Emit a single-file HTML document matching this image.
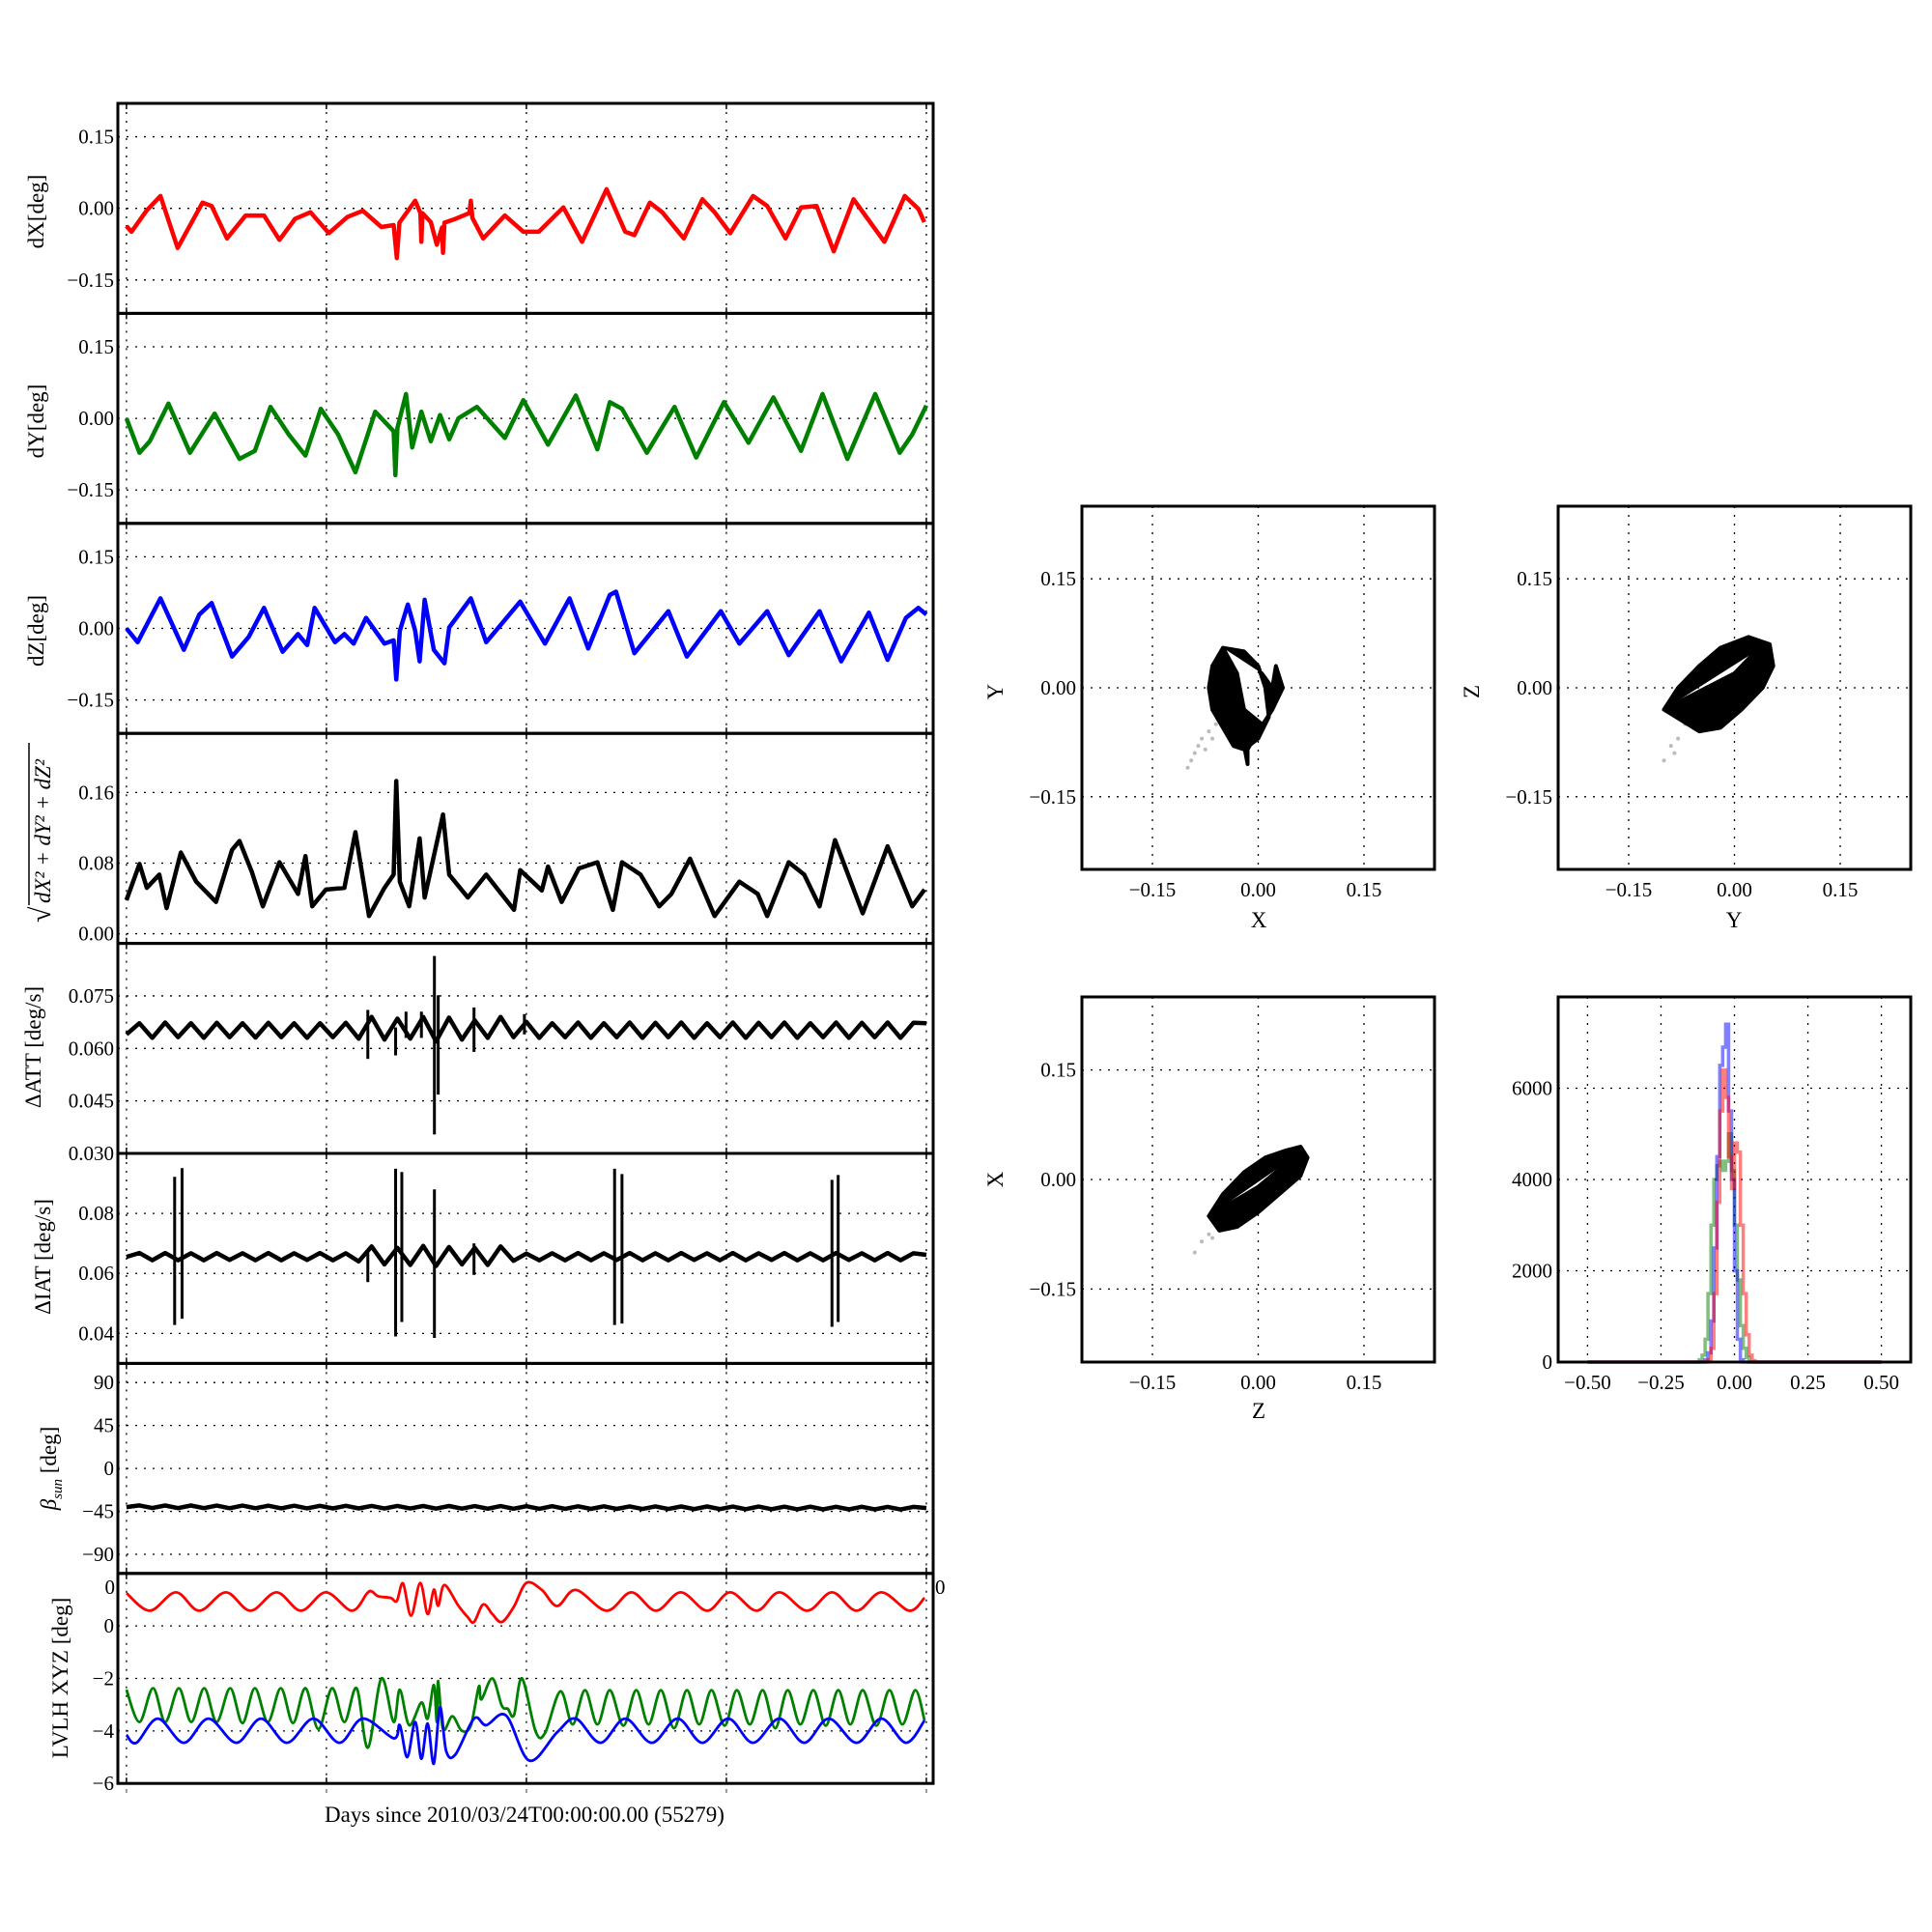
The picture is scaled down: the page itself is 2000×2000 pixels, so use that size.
<!DOCTYPE html>
<html><head><meta charset="utf-8"><title>Attitude diagnostics</title>
<style>
html,body{margin:0;padding:0;background:#fff;}
svg{display:block;font-family:"Liberation Serif","DejaVu Serif",serif;}
</style></head>
<body>
<svg id="fig" xmlns="http://www.w3.org/2000/svg" width="2000" height="2000" viewBox="0 0 2000 2000">
<rect x="0" y="0" width="2000" height="2000" fill="#fff"/>
<text x="543" y="1886" font-size="23" text-anchor="middle">Days since 2010/03/24T00:00:00.00 (55279)</text>
<text x="119" y="1650" font-size="21" text-anchor="end">0</text>
<text x="968" y="1650" font-size="21" text-anchor="start">0</text>
</svg>
<script>
// ---------- time-series data ----------
const dxT=[0,.025,.10,.17,.256,.38,.426,.503,.596,.688,.765,.843,.92,1.012,1.105,1.182,1.275,1.336,1.352,1.365,1.444,1.47,1.475,1.48,1.522,1.552,1.578,1.583,1.59,1.645,1.715,1.722,1.73,1.784,1.892,1.985,2.062,2.185,2.278,2.401,2.494,2.54,2.617,2.679,2.787,2.88,2.941,3.019,3.133,3.204,3.296,3.373,3.451,3.537,3.636,3.79,3.892,3.96,3.99];
const dxV=[-.037,-.049,-.005,.026,-.083,.012,.005,-.063,-.015,-.015,-.066,-.022,-.008,-.052,-.018,-.005,-.039,-.035,-.104,-.03,.016,-.01,-.07,-.01,-.029,-.076,-.04,-.093,-.03,-.022,-.01,.016,-.02,-.063,-.015,-.049,-.049,.002,-.07,.04,-.049,-.056,.012,-.008,-.063,.019,-.008,-.052,.026,.005,-.063,.002,.005,-.09,.019,-.07,.026,-.001,-.029];
const dyT=[0,.065,.117,.21,.318,.441,.565,.642,.72,.812,.895,.972,1.059,1.145,1.244,1.336,1.345,1.355,1.398,1.429,1.475,1.522,1.568,1.614,1.66,1.753,1.892,1.985,2.108,2.247,2.355,2.417,2.478,2.602,2.741,2.849,2.988,3.111,3.235,3.373,3.481,3.605,3.744,3.867,3.929,4.0];
const dyV=[0,-.072,-.048,.031,-.072,.01,-.085,-.068,.024,-.034,-.078,.02,-.034,-.113,.014,-.027,-.119,-.02,.051,-.061,.014,-.048,.007,-.044,0,.024,-.041,.038,-.055,.048,-.065,.034,.02,-.072,.024,-.082,.034,-.051,.044,-.068,.051,-.085,.051,-.072,-.034,.027];
const dzT=[0,.056,.17,.287,.364,.426,.528,.611,.688,.781,.858,.904,.941,1.043,1.09,1.136,1.198,1.29,1.336,1.349,1.367,1.407,1.444,1.466,1.491,1.537,1.59,1.614,1.722,1.799,1.969,2.093,2.216,2.309,2.417,2.448,2.54,2.71,2.802,2.972,3.065,3.204,3.312,3.466,3.574,3.713,3.806,3.898,3.96,4.0];
const dzV=[0,-.029,.063,-.045,.029,.053,-.059,-.018,.043,-.049,-.012,-.035,.043,-.029,-.012,-.032,.022,-.032,-.025,-.107,-.005,.05,-.005,-.069,.06,-.045,-.073,.002,.063,-.029,.056,-.032,.063,-.042,.07,.077,-.052,.036,-.059,.036,-.032,.036,-.056,.036,-.069,.033,-.066,.022,.043,.029];
const magT=[0,.065,.102,.164,.201,.272,.349,.448,.528,.565,.627,.682,.765,.858,.895,.929,.997,1.09,1.145,1.213,1.29,1.336,1.349,1.367,1.414,1.466,1.491,1.537,1.583,1.614,1.707,1.799,1.938,1.969,2.077,2.108,2.176,2.262,2.355,2.432,2.478,2.571,2.664,2.725,2.818,2.941,3.065,3.157,3.204,3.312,3.389,3.466,3.543,3.682,3.806,3.929,3.991];
const magV=[.038,.079,.052,.067,.029,.092,.059,.036,.095,.105,.07,.031,.081,.045,.088,.031,.05,.052,.115,.02,.052,.067,.173,.059,.031,.108,.041,.088,.135,.067,.041,.067,.027,.072,.049,.076,.036,.074,.081,.027,.081,.067,.031,.045,.085,.02,.059,.045,.02,.081,.067,.031,.106,.023,.099,.031,.05];
const attV=[.0640,.0672,.0630,.0674,.0632,.0672,.0630,.0673,.0632,.0672,.0631,.0673,.0632,.0672,.0630,.0672,.0632,.0673,.0628,.0690,.0625,.0685,.0628,.0690,.0620,.0688,.0625,.0680,.0630,.0690,.0632,.0676,.0630,.0672,.0632,.0674,.0630,.0672,.0632,.0674,.0630,.0673,.0632,.0674,.0630,.0672,.0632,.0674,.0630,.0673,.0632,.0674,.0630,.0672,.0632,.0674,.0630,.0673,.0632,.0674,.0630,.0673,.0672];
const attSpikeT=[1.207,1.346,1.398,1.475,1.54,1.559,1.738,1.99];
const attSpikeHi=[.071,.066,.0705,.0705,.0864,.0752,.0717,.0698];
const attSpikeLo=[.057,.058,.063,.063,.0354,.0468,.059,.064];
const iatV=[.0655,.0668,.0644,.0668,.0644,.0667,.0644,.0668,.0645,.0667,.0644,.0668,.0644,.0667,.0645,.0668,.0644,.0667,.0640,.0690,.0630,.0685,.0628,.0692,.0625,.0688,.0630,.0685,.0628,.0690,.0642,.0666,.0644,.0667,.0644,.0668,.0644,.0667,.0645,.0668,.0644,.0667,.0644,.0668,.0645,.0667,.0644,.0668,.0644,.0667,.0645,.0668,.0644,.0667,.0644,.0668,.0645,.0667,.0644,.0668,.0644,.0667,.0662];
const iatSpikeT=[.241,.278,1.207,1.346,1.377,1.54,1.738,2.441,2.478,3.528,3.559];
const iatSpikeHi=[.0922,.0951,.068,.0949,.0938,.088,.070,.0949,.0931,.0912,.0928];
const iatSpikeLo=[.0428,.0449,.0571,.039,.0438,.0385,.0595,.0428,.0433,.0422,.0438];
const betaV=[-40.5,-38.8,-41.5,-38.9,-41.6,-38.9,-41.6,-39.0,-41.7,-39.0,-41.7,-39.1,-41.8,-39.1,-41.8,-39.2,-41.9,-39.2,-41.9,-39.3,-42.0,-39.3,-42.0,-39.4,-42.1,-39.4,-42.1,-39.5,-42.2,-39.5,-42.2,-39.6,-42.3,-39.6,-42.3,-39.7,-42.4,-39.7,-42.4,-39.8,-42.5,-39.8,-42.5,-39.9,-42.6,-39.9,-42.6,-40.0,-42.7,-40.0,-42.7,-40.1,-42.8,-40.1,-42.8,-40.2,-42.9,-40.2,-42.9,-40.3,-43.0,-40.3,-41.5];
const lvxT=[0,.117,.247,.364,.497,.62,.75,.873,.997,1.127,1.204,1.228,1.259,1.321,1.352,1.383,1.423,1.469,1.506,1.537,1.559,1.59,1.66,1.707,1.738,1.784,1.83,1.877,1.938,2.0,2.077,2.154,2.247,2.401,2.525,2.648,2.772,2.904,3.019,3.151,3.265,3.404,3.528,3.651,3.775,3.914,3.991];
const lvxV=[1.25,.58,1.28,.58,1.28,.58,1.28,.58,1.28,.58,1.25,1.31,1.13,1.07,.95,1.62,.39,1.64,.45,1.38,.77,1.56,.77,.33,.15,.82,.45,.15,.74,1.64,1.37,.76,1.37,.58,1.28,.58,1.28,.58,1.28,.58,1.28,.58,1.28,.58,1.28,.58,1.07];
const lvyT=[0,.065,.133,.194,.262,.324,.389,.451,.519,.58,.642,.707,.772,.833,.895,.96,1.028,1.09,1.151,1.207,1.275,1.336,1.367,1.414,1.475,1.506,1.537,1.552,1.559,1.583,1.63,1.676,1.722,1.762,1.775,1.83,1.877,1.907,1.938,1.978,2.046,2.093,2.17,2.231,2.293,2.355,2.417,2.485,2.549,2.611,2.673,2.738,2.802,2.864,2.926,2.991,3.052,3.117,3.182,3.244,3.306,3.37,3.435,3.497,3.559,3.62,3.682,3.75,3.815,3.88,3.944,3.991];
const lvyV=[-2.43,-3.66,-2.37,-3.66,-2.37,-3.66,-2.37,-3.66,-2.37,-3.7,-2.37,-3.66,-2.37,-3.7,-2.37,-3.93,-2.37,-3.66,-2.37,-4.64,-2.0,-3.66,-2.43,-3.78,-2.92,-3.53,-2.25,-3.66,-2.1,-3.93,-3.44,-3.99,-3.8,-2.31,-2.8,-2.0,-3.04,-3.16,-3.4,-2.0,-4.02,-4.08,-2.49,-3.75,-2.45,-3.75,-2.45,-3.8,-2.45,-3.75,-2.45,-3.9,-2.45,-3.75,-2.45,-3.8,-2.45,-3.75,-2.45,-3.9,-2.45,-3.75,-2.45,-3.8,-2.45,-3.75,-2.45,-3.8,-2.45,-3.75,-2.45,-3.6];
const lvzT=[0,.05,.157,.287,.41,.549,.673,.802,.935,1.065,1.182,1.336,1.367,1.404,1.444,1.475,1.506,1.537,1.568,1.599,1.645,1.738,1.799,1.898,2.015,2.154,2.247,2.37,2.494,2.627,2.756,2.88,3.009,3.133,3.265,3.389,3.512,3.651,3.775,3.898,3.991];
const lvzV=[-4.15,-4.45,-3.53,-4.45,-3.53,-4.45,-3.53,-4.45,-3.53,-4.45,-3.53,-4.28,-3.78,-5.0,-3.66,-5.06,-3.72,-5.25,-3.1,-4.77,-4.9,-3.53,-3.78,-3.41,-5.13,-4.05,-3.53,-4.45,-3.53,-4.45,-3.53,-4.45,-3.53,-4.45,-3.53,-4.45,-3.53,-4.45,-3.53,-4.45,-3.6];
// ---------- scatter data ----------
const xyX=[-0.05,-0.02,0.0,0.01,0.015,0.0,-0.02,-0.035,-0.05,-0.065,-0.07,-0.065,-0.05,-0.03,-0.02,0.005,-0.015,-0.015,-0.02,0.0,0.02,0.035,0.025,0.02,0.005];
const xyY=[0.055,0.05,0.03,0.0,-0.04,-0.07,-0.085,-0.08,-0.055,-0.03,0.0,0.03,0.055,0.02,-0.03,-0.05,-0.085,-0.105,-0.08,-0.06,-0.03,0.0,0.03,0.0,0.02];
const xyTailX=[-0.06,-0.07,-0.08,-0.085,-0.09,-0.095,-0.1,-0.065,-0.075];
const xyTailY=[-0.05,-0.06,-0.07,-0.08,-0.09,-0.1,-0.11,-0.07,-0.085];
const yzY=[-0.1,-0.08,-0.05,-0.02,0.02,0.05,0.055,0.04,0.01,-0.02,-0.05,-0.075,-0.1,-0.04,0.0,0.03];
const yzZ=[-0.03,0.0,0.03,0.055,0.07,0.06,0.03,0.0,-0.03,-0.055,-0.06,-0.045,-0.03,0.0,0.02,0.05];
const yzTailY=[-0.07,-0.08,-0.09,-0.1,-0.085];
const yzTailZ=[-0.05,-0.07,-0.08,-0.1,-0.09];
const zxZ=[-0.07,-0.05,-0.02,0.01,0.04,0.06,0.07,0.06,0.03,0.0,-0.03,-0.055,-0.07,0.0,0.05];
const zxX=[-0.05,-0.02,0.01,0.03,0.04,0.045,0.03,0.005,-0.02,-0.045,-0.065,-0.07,-0.05,-0.01,0.03];
const zxTailZ=[-0.06,-0.07,-0.08,-0.09,-0.065];
const zxTailX=[-0.06,-0.075,-0.085,-0.1,-0.08];
// ---------- histogram data ----------
const binEdges=[-0.13,-0.12,-0.11,-0.10,-0.09,-0.08,-0.07,-0.06,-0.05,-0.04,-0.03,-0.02,-0.01,0.0,0.01,0.02,0.03,0.04,0.05,0.06,0.07,0.08];
const histBlue=[0,0,0,50,200,900,2500,4500,6500,6900,7400,5500,4000,2000,500,50,0,0,0,0,0];
const histRed=[0,0,0,0,50,300,1500,3500,5500,6400,5800,4500,3800,4800,4600,3000,1500,600,150,30,0];
const histGreen=[0,50,150,500,1500,3000,4000,4300,4400,4200,4400,5000,4200,3000,1800,800,300,100,0,0,0];

const NS='http://www.w3.org/2000/svg';
const svg=document.getElementById('fig');
function mk(tag,parent){const e=document.createElementNS(NS,tag);parent.appendChild(e);return e;}
function fmt(v,d){const s=Math.abs(v).toFixed(d);return (v<0?'\u2212':'')+s;}

const LEFT=122,RIGHT=966,PTOP=107,PH=217.4,XMIN=-0.043,XMAX=4.034;
const xs=t=>LEFT+(t-XMIN)/(XMAX-XMIN)*(RIGHT-LEFT);
const dayTicks=[0,1,2,3,4];

function tsPanel(i,ymin,ymax,ticks,dec,name){
  const top=PTOP+i*PH,bot=top+PH;
  const ys=v=>bot-(v-ymin)/(ymax-ymin)*PH;
  const g=mk('g',svg);
  
  
  dayTicks.forEach(t=>{const l=mk('line',g);l.setAttribute('x1',xs(t));l.setAttribute('x2',xs(t));l.setAttribute('y1',top);l.setAttribute('y2',bot);l.setAttribute('stroke','#000');l.setAttribute('stroke-width','1.3');l.setAttribute('stroke-dasharray','2,7');
    
    
    [top,bot].forEach(yy=>{const tk=mk('line',g);tk.setAttribute('x1',xs(t));tk.setAttribute('x2',xs(t));tk.setAttribute('y1',yy);tk.setAttribute('y2',yy===top?yy+6:yy-6);tk.setAttribute('stroke','#000');tk.setAttribute('stroke-width','1.5');});
  });
  ticks.forEach(v=>{const y=ys(v);const l=mk('line',g);l.setAttribute('x1',LEFT);l.setAttribute('x2',RIGHT);l.setAttribute('y1',y);l.setAttribute('y2',y);l.setAttribute('stroke','#000');l.setAttribute('stroke-width','1.3');l.setAttribute('stroke-dasharray','2,7');
    
    
    const tx=mk('text',g);tx.setAttribute('x',118);tx.setAttribute('y',y+7);tx.setAttribute('font-size','21');tx.setAttribute('text-anchor','end');tx.textContent=fmt(v,dec);
    
    
  });
  return {g,ys,top,bot};
}
function frame(p,name){const r=mk('rect',svg);r.setAttribute('x',LEFT);r.setAttribute('y',p.top);r.setAttribute('width',RIGHT-LEFT);r.setAttribute('height',PH);r.setAttribute('fill','none');r.setAttribute('stroke','#000');r.setAttribute('stroke-width','3');
  
  }
function line(p,T,V,color,w,name,smooth){
  const n=Math.min(T.length,V.length);let d='';
  const P=[];for(let k=0;k<n;k++)P.push([xs(T[k]),p.ys(V[k])]);
  if(!smooth){P.forEach((q,k)=>{d+=(k?'L':'M')+q[0].toFixed(1)+' '+q[1].toFixed(1);});}
  else{d='M'+P[0][0]+' '+P[0][1];for(let k=0;k<n-1;k++){const p0=P[Math.max(0,k-1)],p1=P[k],p2=P[k+1],p3=P[Math.min(n-1,k+2)];
    const c1=[p1[0]+(p2[0]-p0[0])/6,p1[1]+(p2[1]-p0[1])/6],c2=[p2[0]-(p3[0]-p1[0])/6,p2[1]-(p3[1]-p1[1])/6];
    d+='C'+c1[0].toFixed(1)+' '+c1[1].toFixed(1)+' '+c2[0].toFixed(1)+' '+c2[1].toFixed(1)+' '+p2[0].toFixed(1)+' '+p2[1].toFixed(1);}}
  const e=mk('path',p.g);e.setAttribute('d',d);e.setAttribute('fill','none');e.setAttribute('stroke',color);e.setAttribute('stroke-width',w);e.setAttribute('stroke-linejoin','round');
  
  
}
function uniformT(V){return V.map((_,k)=>4*k/(V.length-1));}
function spikes(p,T,H,L,name){for(let k=0;k<T.length;k++){const e=mk('line',p.g);e.setAttribute('x1',xs(T[k]));e.setAttribute('x2',xs(T[k]));e.setAttribute('y1',p.ys(H[k]));e.setAttribute('y2',p.ys(L[k]));e.setAttribute('stroke','#000');e.setAttribute('stroke-width','3');
  
  }}
function ylabel(x,y,txt,name,size){const t=mk('text',svg);t.setAttribute('transform','translate('+x+','+y+') rotate(-90)');t.setAttribute('text-anchor','middle');t.setAttribute('font-size',size||23);t.textContent=txt;
  
  return t;}

let p;
p=tsPanel(0,-0.22,0.22,[-0.15,0,0.15],2,'dx');line(p,dxT,dxV,'#f00',4.5,'dx-line');frame(p,'dx');ylabel(45,219,'dX[deg]','dx-axis-title');
p=tsPanel(1,-0.22,0.22,[-0.15,0,0.15],2,'dy');line(p,dyT,dyV,'#008000',4.5,'dy-line');frame(p,'dy');ylabel(45,436,'dY[deg]','dy-axis-title');
p=tsPanel(2,-0.22,0.22,[-0.15,0,0.15],2,'dz');line(p,dzT,dzV,'#00f',4.5,'dz-line');frame(p,'dz');ylabel(45,653,'dZ[deg]','dz-axis-title');
p=tsPanel(3,-0.011,0.227,[0,0.08,0.16],2,'mag');line(p,magT,magV,'#000',4.5,'magnitude-line');frame(p,'mag');
{const g=mk('g',svg);g.setAttribute('transform','translate(52,867) rotate(-90)');
 
 
 const t=mk('text',g);t.setAttribute('x',-88);t.setAttribute('y',0);t.setAttribute('font-size','30');t.textContent='\u221A';
 const t2=mk('text',g);t2.setAttribute('x',-68);t2.setAttribute('y',0);t2.setAttribute('font-size','23');t2.setAttribute('font-style','italic');t2.textContent='dX\u00B2 + dY\u00B2 + dZ\u00B2';
 const ol=mk('line',g);ol.setAttribute('x1',-70);ol.setAttribute('x2',98);ol.setAttribute('y1',-22);ol.setAttribute('y2',-22);ol.setAttribute('stroke','#000');ol.setAttribute('stroke-width','1.5');}
p=tsPanel(4,0.030,0.090,[0.030,0.045,0.060,0.075],3,'att');line(p,uniformT(attV),attV,'#000',4.5,'delta-att-line');spikes(p,attSpikeT,attSpikeHi,attSpikeLo,'delta-att-spike');frame(p,'att');ylabel(42,1084,'\u0394ATT [deg/s]','delta-att-axis-title');
p=tsPanel(5,0.03,0.10,[0.04,0.06,0.08],2,'iat');line(p,uniformT(iatV),iatV,'#000',4.5,'delta-iat-line');spikes(p,iatSpikeT,iatSpikeHi,iatSpikeLo,'delta-iat-spike');frame(p,'iat');ylabel(52,1301,'\u0394IAT [deg/s]','delta-iat-axis-title');
p=tsPanel(6,-110,110,[-90,-45,0,45,90],0,'beta');line(p,uniformT(betaV),betaV,'#000',4.5,'beta-sun-line');frame(p,'beta');
{const t=ylabel(58,1520,'','beta-axis-title');const a=mk('tspan',t);a.setAttribute('font-style','italic');a.textContent='\u03B2';const b=mk('tspan',t);b.setAttribute('font-style','italic');b.setAttribute('font-size','15');b.setAttribute('dy','6');b.textContent='sun';const c=mk('tspan',t);c.setAttribute('dy','-6');c.textContent=' [deg]';}
p=tsPanel(7,-6,2,[-6,-4,-2,0],0,'lvlh');line(p,lvxT,lvxV,'#f00',2.8,'lvlh-x-line',true);line(p,lvyT,lvyV,'#008000',2.8,'lvlh-y-line',true);line(p,lvzT,lvzV,'#00f',2.8,'lvlh-z-line',true);frame(p,'lvlh');ylabel(70,1737,'LVLH XYZ [deg]','lvlh-axis-title');
dayTicks.forEach(t=>{const l=mk('line',svg);l.setAttribute('x1',xs(t));l.setAttribute('x2',xs(t));l.setAttribute('y1',1852);l.setAttribute('y2',1856);l.setAttribute('stroke','#999');l.setAttribute('stroke-width','2');
  
  });

// ---------- square panels ----------
function sqPanel(x0,y0,w,h,xlim,ylim,xt,yt,xdec,ydec,name){
  const g=mk('g',svg);
  
  
  const sx=v=>x0+(v-xlim[0])/(xlim[1]-xlim[0])*w, sy=v=>y0+h-(v-ylim[0])/(ylim[1]-ylim[0])*h;
  xt.forEach(v=>{const l=mk('line',g);l.setAttribute('x1',sx(v));l.setAttribute('x2',sx(v));l.setAttribute('y1',y0);l.setAttribute('y2',y0+h);l.setAttribute('stroke','#000');l.setAttribute('stroke-width','1.3');l.setAttribute('stroke-dasharray','2,7');
    
    
    const t=mk('text',g);t.setAttribute('x',sx(v));t.setAttribute('y',y0+h+28);t.setAttribute('font-size','21');t.setAttribute('text-anchor','middle');t.textContent=fmt(v,xdec);
    
    });
  yt.forEach(v=>{const l=mk('line',g);l.setAttribute('x1',x0);l.setAttribute('x2',x0+w);l.setAttribute('y1',sy(v));l.setAttribute('y2',sy(v));l.setAttribute('stroke','#000');l.setAttribute('stroke-width','1.3');l.setAttribute('stroke-dasharray','2,7');
    
    
    const t=mk('text',g);t.setAttribute('x',x0-6);t.setAttribute('y',sy(v)+7);t.setAttribute('font-size','21');t.setAttribute('text-anchor','end');t.textContent=fmt(v,ydec);
    
    });
  return {g,sx,sy,x0,y0,w,h};
}
function sqFrame(q,name){const r=mk('rect',svg);r.setAttribute('x',q.x0);r.setAttribute('y',q.y0);r.setAttribute('width',q.w);r.setAttribute('height',q.h);r.setAttribute('fill','none');r.setAttribute('stroke','#000');r.setAttribute('stroke-width','3');
  
  }
function cloud(q,X,Y,TX,TY,name){
  TX.forEach((v,k)=>{const c=mk('circle',q.g);c.setAttribute('cx',q.sx(v));c.setAttribute('cy',q.sy(TY[k]));c.setAttribute('r','2');c.setAttribute('fill','#bbb');
    
    });
  let d='';const n=Math.min(X.length,Y.length);for(let k=0;k<n;k++)d+=(k?'L':'M')+q.sx(X[k]).toFixed(1)+' '+q.sy(Y[k]).toFixed(1);
  const e=mk('path',q.g);e.setAttribute('d',d);e.setAttribute('fill','#000');e.setAttribute('fill-rule','nonzero');e.setAttribute('stroke','#000');e.setAttribute('stroke-width','4');e.setAttribute('stroke-linejoin','round');e.setAttribute('stroke-linecap','round');
  
  
}
const L25=[-0.25,0.25],T3=[-0.15,0,0.15];
let q=sqPanel(1120,524,365,376,L25,L25,T3,T3,2,2,'xy-scatter');cloud(q,xyX,xyY,xyTailX,xyTailY,'xy');sqFrame(q,'xy-frame');
ylabel(1038,716,'Y','xy-y-title');{const t=mk('text',svg);t.setAttribute('x',1303);t.setAttribute('y',960);t.setAttribute('font-size','23');t.setAttribute('text-anchor','middle');t.textContent='X';}
q=sqPanel(1613,524,365,376,L25,L25,T3,T3,2,2,'yz-scatter');cloud(q,yzY,yzZ,yzTailY,yzTailZ,'yz');sqFrame(q,'yz-frame');
ylabel(1531,716,'Z','yz-y-title');{const t=mk('text',svg);t.setAttribute('x',1795);t.setAttribute('y',960);t.setAttribute('font-size','23');t.setAttribute('text-anchor','middle');t.textContent='Y';}
q=sqPanel(1120,1032,365,378,L25,L25,T3,T3,2,2,'zx-scatter');cloud(q,zxZ,zxX,zxTailZ,zxTailX,'zx');sqFrame(q,'zx-frame');
ylabel(1038,1221,'X','zx-y-title');{const t=mk('text',svg);t.setAttribute('x',1303);t.setAttribute('y',1468);t.setAttribute('font-size','23');t.setAttribute('text-anchor','middle');t.textContent='Z';}
q=sqPanel(1613,1032,365,378,[-0.6,0.6],[0,8000],[-0.5,-0.25,0,0.25,0.5],[0,2000,4000,6000],2,0,'histogram');
function hist(q,C,color,name){let d='M'+q.sx(-0.5)+' '+q.sy(0)+'L'+q.sx(binEdges[0])+' '+q.sy(0);
  for(let k=0;k<C.length;k++){d+='L'+q.sx(binEdges[k]).toFixed(1)+' '+q.sy(C[k]).toFixed(1)+'L'+q.sx(binEdges[k+1]).toFixed(1)+' '+q.sy(C[k]).toFixed(1);}
  d+='L'+q.sx(binEdges[binEdges.length-1])+' '+q.sy(0)+'L'+q.sx(0.5)+' '+q.sy(0);
  const e=mk('path',q.g);e.setAttribute('d',d);e.setAttribute('fill','none');e.setAttribute('stroke',color);e.setAttribute('stroke-opacity','0.5');e.setAttribute('stroke-width','3.5');
  
  }
hist(q,histGreen,'#008000','hist-y');hist(q,histBlue,'#0000ff','hist-z');hist(q,histRed,'#ff0000','hist-x');
sqFrame(q,'histogram-frame');
</script>
</body></html>
